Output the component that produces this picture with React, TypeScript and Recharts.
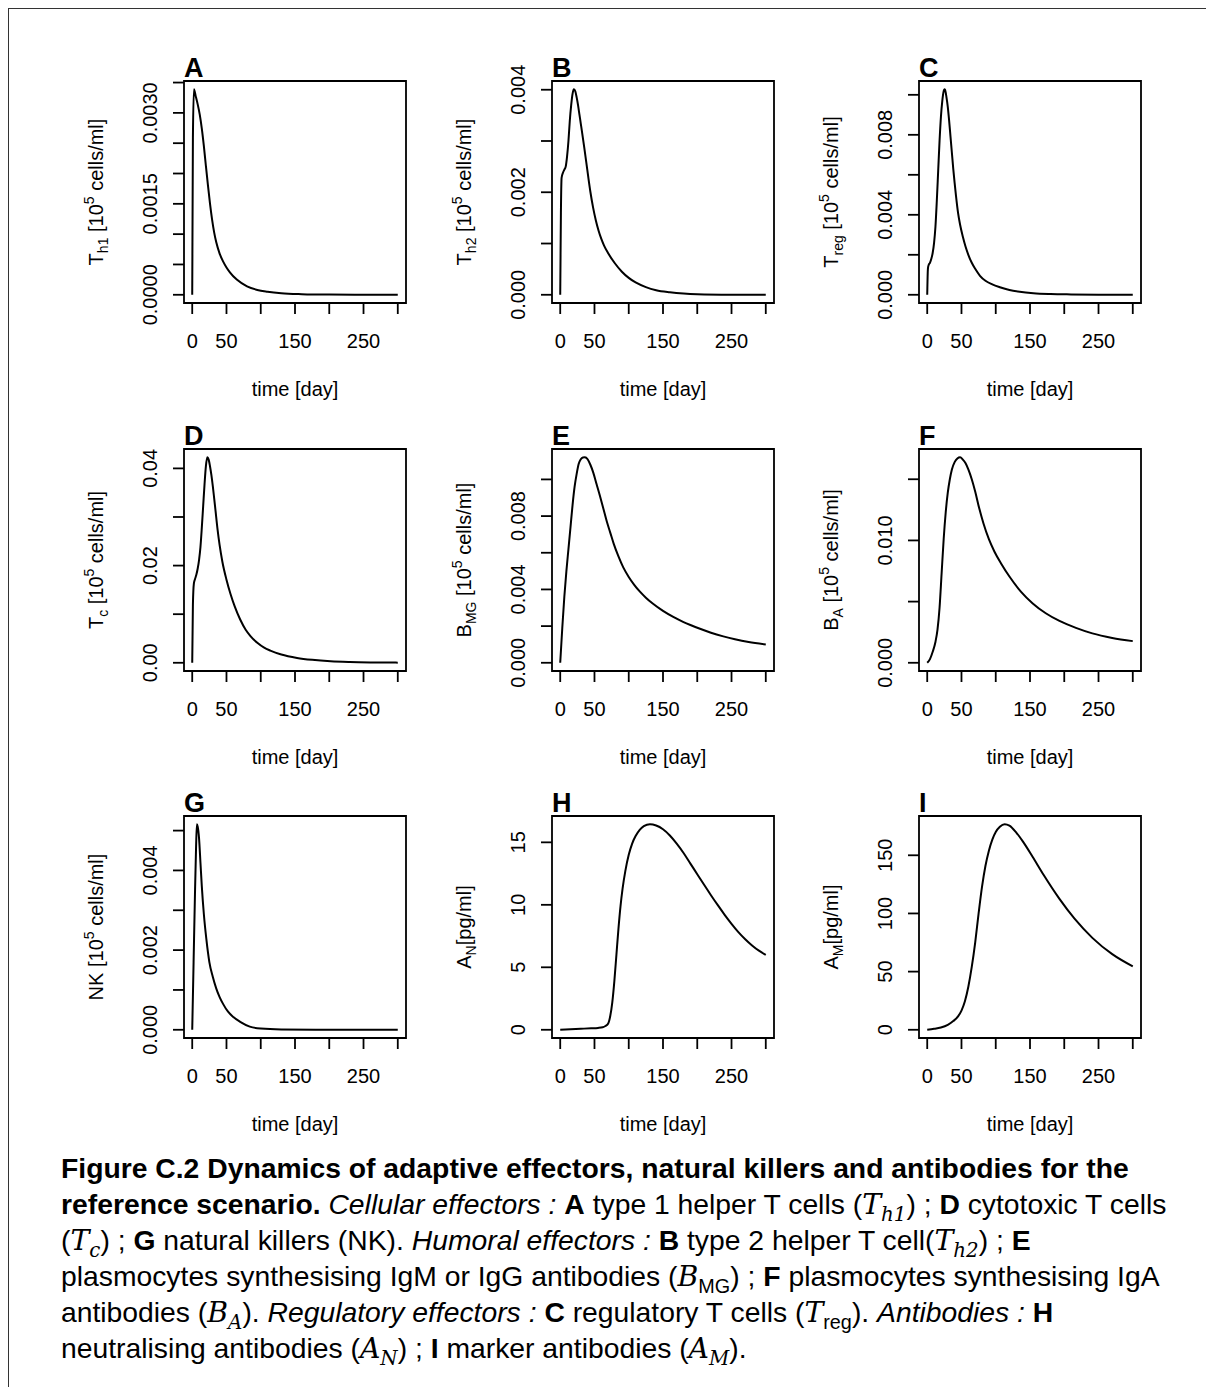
import React from "react";
import { LineChart, Line, XAxis, YAxis, ReferenceArea } from "recharts";

const FONT = "'Liberation Sans', Arial, Helvetica, sans-serif";

// shared time axis (days)
const X_TICKS = [0, 50, 100, 150, 200, 250, 300];
const X_LABELS = [0, 50, 150, 250];

// A: Th1
const A_T = [0, 1, 2.5, 5, 8, 11, 14, 17, 20, 23, 26, 29, 32, 35, 40, 45, 50, 55, 65, 80, 95, 110, 130, 160, 200, 250, 300];
const A_V = [0, 0.0026, 0.00339, 0.00328, 0.00314, 0.00297, 0.00274, 0.00245, 0.00212, 0.0018, 0.0015, 0.00124, 0.00103, 0.00087, 0.00068, 0.00055, 0.00045, 0.00037, 0.00025, 0.00014, 0.00008, 0.00005, 0.000025, 0.00001, 0.000003, 0.000001, 0];
const A_YTICKS = [0, 0.0005, 0.001, 0.0015, 0.002, 0.0025, 0.003, 0.0035];
const A_YLABELS = ["0.0000", "0.0015", "0.0030"];

// B: Th2
const B_T = [0, 1, 2, 4, 6, 8, 10, 12, 14, 16, 18, 20, 22, 24, 26, 28, 30, 32, 35, 38, 41, 44, 48, 52, 56, 60, 64, 70, 80, 90, 100, 110, 125, 140, 160, 180, 200, 250, 300];
const B_V = [0, 0.0016, 0.00228, 0.00238, 0.00244, 0.0025, 0.0027, 0.003, 0.0034, 0.0037, 0.00392, 0.00401, 0.00397, 0.00385, 0.0037, 0.00352, 0.00334, 0.00316, 0.00288, 0.00259, 0.00229, 0.00201, 0.0017, 0.00145, 0.00125, 0.00109, 0.00096, 0.00081, 0.00061, 0.00045, 0.00033, 0.00024, 0.00015, 0.00009, 0.00005, 0.000025, 0.000012, 0.000002, 0];
const B_YTICKS = [0, 0.001, 0.002, 0.003, 0.004];
const B_YLABELS = ["0.000", "0.002", "0.004"];

// C: Treg
const C_T = [0, 1, 2, 4, 6, 8, 10, 12, 14, 16, 18, 20, 22, 24, 25, 26, 28, 30, 32, 34, 36, 38, 40, 42, 45, 48, 52, 56, 60, 65, 70, 77, 85, 95, 106, 120, 135, 155, 180, 210, 250, 300];
const C_V = [0, 0.0013, 0.00148, 0.0016, 0.0018, 0.0021, 0.0026, 0.0034, 0.0047, 0.0062, 0.0077, 0.0089, 0.0097, 0.01018, 0.01028, 0.01025, 0.0099, 0.0094, 0.0087, 0.0079, 0.0071, 0.0063, 0.0056, 0.00495, 0.0041, 0.0035, 0.0029, 0.0024, 0.002, 0.0016, 0.0013, 0.00095, 0.0007, 0.00052, 0.00038, 0.00024, 0.00015, 0.00008, 0.00004, 0.00002, 0.000006, 0];
const C_YTICKS = [0, 0.002, 0.004, 0.006, 0.008, 0.01];
const C_YLABELS = ["0.000", "0.004", "0.008"];

// D: Tc
const D_T = [0, 1, 2.4, 4, 6, 8, 10, 12, 14, 16, 18, 20, 22, 24, 26, 28, 30, 32, 34, 37, 40, 44, 50, 56, 62, 70, 78, 85, 95, 105, 114, 130, 153, 175, 202, 230, 260, 300];
const D_V = [0, 0.012, 0.0163, 0.0172, 0.0181, 0.0194, 0.0212, 0.0238, 0.0278, 0.0323, 0.0368, 0.0405, 0.0423, 0.0418, 0.0404, 0.0386, 0.0364, 0.0339, 0.0313, 0.0274, 0.0242, 0.0208, 0.0171, 0.0141, 0.0116, 0.0089, 0.0068, 0.0055, 0.0041, 0.0031, 0.0025, 0.0017, 0.001, 0.0006, 0.0003, 0.00015, 0.00007, 0.00003];
const D_YTICKS = [0, 0.01, 0.02, 0.03, 0.04];
const D_YLABELS = ["0.00", "0.02", "0.04"];

// E: BMG
const E_T = [0, 3, 6, 9, 12, 15, 18, 21, 24, 27, 30, 33, 36, 40, 44, 48, 53, 58, 63, 68, 73, 78, 85, 92, 100, 108, 116, 125, 135, 150, 165, 180, 190, 205, 220, 238, 255, 275, 300];
const E_V = [0, 0.0019, 0.0036, 0.005, 0.0062, 0.0074, 0.0086, 0.0096, 0.0103, 0.01085, 0.0111, 0.0112, 0.01121, 0.0111, 0.0108, 0.0104, 0.00975, 0.0091, 0.0084, 0.0077, 0.0071, 0.0065, 0.0058, 0.0052, 0.00468, 0.00425, 0.00389, 0.00355, 0.00323, 0.00283, 0.0025, 0.00222, 0.00206, 0.00184, 0.00164, 0.00144, 0.00128, 0.00113, 0.001];
const E_YTICKS = [0, 0.002, 0.004, 0.006, 0.008, 0.01];
const E_YLABELS = ["0.000", "0.004", "0.008"];

// F: BA
const F_T = [0, 4, 8, 12, 15, 18, 21, 24, 27, 30, 33, 36, 40, 44, 48, 52, 56, 60, 65, 70, 76, 82, 90, 98, 108, 120, 137, 154, 173, 193, 217, 241, 270, 300];
const F_V = [0, 0.0003, 0.0009, 0.0017, 0.0027, 0.0045, 0.0073, 0.0101, 0.0123, 0.0139, 0.015, 0.0158, 0.0164, 0.0167, 0.0168, 0.0166, 0.0163, 0.0158, 0.015, 0.014, 0.0126, 0.0114, 0.0101, 0.0091, 0.0081, 0.00705, 0.0058, 0.00485, 0.00405, 0.00342, 0.00285, 0.0024, 0.00203, 0.00177];
const F_YTICKS = [0, 0.005, 0.01, 0.015];
const F_YLABELS = ["0.000", "0.010"];

// G: NK
const G_T = [0, 2, 4, 5.5, 6.8, 8, 10, 12, 14, 17, 20.6, 25, 30, 35, 40, 45, 52, 60, 70, 84, 100, 130, 180, 300];
const G_V = [0, 0.0017, 0.0034, 0.0045, 0.00516, 0.0051, 0.0048, 0.0042, 0.0036, 0.0029, 0.00228, 0.0017, 0.00133, 0.00104, 0.00082, 0.00065, 0.00046, 0.00032, 0.0002, 0.00008, 0.00003, 0.000008, 0.000002, 0];
const G_YTICKS = [0, 0.001, 0.002, 0.003, 0.004, 0.005];
const G_YLABELS = ["0.000", "0.002", "0.004"];

// H: AN
const H_T = [0, 15, 30, 45, 55, 62, 66, 70, 73, 76, 79, 82, 85, 88, 91, 95, 100, 105, 110, 116, 122, 131, 140, 150, 160, 170, 180, 190, 200, 210, 220, 230, 240, 250, 260, 270, 280, 290, 300];
const H_V = [0, 0.04, 0.08, 0.12, 0.15, 0.2, 0.3, 0.5, 1.1, 2.2, 3.9, 6, 8.1, 9.9, 11.3, 12.7, 14, 14.9, 15.5, 16, 16.3, 16.45, 16.35, 16.05, 15.55, 14.9, 14.15, 13.3, 12.45, 11.6, 10.77, 9.97, 9.2, 8.48, 7.82, 7.25, 6.75, 6.33, 6];
const H_YTICKS = [0, 5, 10, 15];
const H_YLABELS = ["0", "5", "10", "15"];

// I: AM
const I_T = [0, 10, 20, 30, 38, 45, 50, 55, 60, 65, 70, 75, 80, 85, 90, 95, 100, 106, 113, 120, 130, 140, 154, 170, 193, 215, 241, 270, 300];
const I_V = [0, 0.8, 2, 4.3, 7.5, 11.5, 16.5, 24.5, 37, 54, 75, 100, 123, 141, 154, 163.5, 170, 174.5, 176.7, 175.5, 169.5, 161.5, 148.5, 133, 112.5, 95.5, 79, 65, 54.5];
const I_YTICKS = [0, 50, 100, 150];
const I_YLABELS = ["0", "50", "100", "150"];

type Title = { main: string; sub?: string; unit: "cells" | "pg" };

type PanelSpec = {
  letter: string;
  t: number[];
  v: number[];
  yTicks: number[];
  yLabels: string[];
  title: Title;
};

const PANELS: PanelSpec[] = [
  { letter: "A", t: A_T, v: A_V, yTicks: A_YTICKS, yLabels: A_YLABELS, title: { main: "T", sub: "h1", unit: "cells" } },
  { letter: "B", t: B_T, v: B_V, yTicks: B_YTICKS, yLabels: B_YLABELS, title: { main: "T", sub: "h2", unit: "cells" } },
  { letter: "C", t: C_T, v: C_V, yTicks: C_YTICKS, yLabels: C_YLABELS, title: { main: "T", sub: "reg", unit: "cells" } },
  { letter: "D", t: D_T, v: D_V, yTicks: D_YTICKS, yLabels: D_YLABELS, title: { main: "T", sub: "c", unit: "cells" } },
  { letter: "E", t: E_T, v: E_V, yTicks: E_YTICKS, yLabels: E_YLABELS, title: { main: "B", sub: "MG", unit: "cells" } },
  { letter: "F", t: F_T, v: F_V, yTicks: F_YTICKS, yLabels: F_YLABELS, title: { main: "B", sub: "A", unit: "cells" } },
  { letter: "G", t: G_T, v: G_V, yTicks: G_YTICKS, yLabels: G_YLABELS, title: { main: "NK", unit: "cells" } },
  { letter: "H", t: H_T, v: H_V, yTicks: H_YTICKS, yLabels: H_YLABELS, title: { main: "A", sub: "N", unit: "pg" } },
  { letter: "I", t: I_T, v: I_V, yTicks: I_YTICKS, yLabels: I_YLABELS, title: { main: "A", sub: "M", unit: "pg" } },
];

// layout of one panel
const BOX = 222;
const LEFT = 130;
const TOP = 60;
const RIGHT = 15;
const BOTTOM = 100;
const W = LEFT + BOX + RIGHT;
const H = TOP + BOX + BOTTOM;
const COL_X = [175, 542.5, 910];
const ROW_Y = [72, 439.5, 807];

function XTick(props: any) {
  const { x, y, payload } = props;
  if (!X_LABELS.includes(payload.value)) return <g />;
  return (
    <text x={x} y={y + 34} textAnchor="middle" fontSize={20} fill="#000" fontFamily={FONT}>
      {payload.value}
    </text>
  );
}

function YTick(props: any) {
  const { x, y, payload, labels } = props;
  const lab = (labels as string[]).find((l) => Math.abs(parseFloat(l) - payload.value) < 1e-9);
  if (!lab) return <g />;
  const bx = x - 16;
  return (
    <text x={bx} y={y} transform={`rotate(-90 ${bx} ${y})`} textAnchor="middle" fontSize={20} fill="#000" fontFamily={FONT}>
      {lab}
    </text>
  );
}

function XTitle(props: any) {
  const vb = props.viewBox;
  return (
    <text x={vb.x + vb.width / 2} y={vb.y + 93} textAnchor="middle" fontSize={20} fill="#000" fontFamily={FONT}>
      time [day]
    </text>
  );
}

function YTitle(props: any) {
  const { viewBox: vb, title, letter } = props;
  const cx = vb.x + vb.width - 81;
  const cy = vb.y + vb.height / 2;
  const t = title as Title;
  return (
    <g>
      <text x={cx} y={cy} transform={`rotate(-90 ${cx} ${cy})`} textAnchor="middle" fontSize={20} fill="#000" fontFamily={FONT}>
        <tspan>{t.main}</tspan>
        {t.sub && (
          <tspan fontSize={14} dy={5}>
            {t.sub}
          </tspan>
        )}
        {t.unit === "cells" ? (
          <>
            <tspan dy={t.sub ? -5 : 0}> [10</tspan>
            <tspan fontSize={14} dy={-9}>
              5
            </tspan>
            <tspan dy={9}> cells/ml]</tspan>
          </>
        ) : (
          <tspan dy={t.sub ? -5 : 0}>[pg/ml]</tspan>
        )}
      </text>
      <text x={vb.x + vb.width} y={vb.y - 4} fontSize={27} fontWeight="bold" fill="#000" fontFamily={FONT}>
        {letter}
      </text>
    </g>
  );
}

function Panel({ p }: { p: PanelSpec }) {
  const data = p.t.map((t, i) => ({ t, v: p.v[i] }));
  const xMax = Math.max(...p.t);
  const yMax = Math.max(...p.v);
  const xDom: [number, number] = [-0.04 * xMax, 1.04 * xMax];
  const yDom: [number, number] = [-0.04 * yMax, 1.04 * yMax];
  const tickLine = { stroke: "#000", strokeWidth: 1.8 };
  return (
    <LineChart width={W} height={H} data={data} margin={{ top: TOP, right: RIGHT, bottom: 0, left: 0 }}>
      <XAxis
        dataKey="t"
        type="number"
        domain={xDom}
        ticks={X_TICKS}
        interval={0}
        allowDataOverflow
        axisLine={false}
        tickLine={tickLine}
        tickSize={11}
        tickMargin={0}
        height={BOTTOM}
        tick={(props: any) => <XTick {...props} />}
        label={<XTitle />}
      />
      <YAxis
        type="number"
        domain={yDom}
        ticks={p.yTicks}
        interval={0}
        allowDataOverflow
        axisLine={false}
        tickLine={tickLine}
        tickSize={11}
        tickMargin={0}
        width={LEFT}
        tick={(props: any) => <YTick {...props} labels={p.yLabels} />}
        label={<YTitle title={p.title} letter={p.letter} />}
      />
      <ReferenceArea
        x1={xDom[0]}
        x2={xDom[1]}
        y1={yDom[0]}
        y2={yDom[1]}
        fill="none"
        stroke="#000"
        strokeWidth={1.8}
        ifOverflow="visible"
      />
      <Line dataKey="v" type="monotone" stroke="#000" strokeWidth={2} dot={false} isAnimationActive={false} />
    </LineChart>
  );
}

const M = ({ children }: { children: React.ReactNode }) => (
  <span style={{ fontFamily: "'DejaVu Serif', 'Liberation Serif', serif", fontStyle: "italic" }}>{children}</span>
);
const Sub = ({ children, up }: { children: React.ReactNode; up?: boolean }) => (
  <sub
    style={{
      fontSize: "0.7em",
      lineHeight: 0,
      fontStyle: up ? "normal" : "italic",
      fontFamily: up ? FONT : undefined,
    }}
  >
    {children}
  </sub>
);

function Caption() {
  const line = { whiteSpace: "nowrap" as const, height: 36 };
  return (
    <div
      style={{
        position: "absolute",
        left: 52,
        top: 1141,
        fontFamily: FONT,
        fontSize: 28.3,
        lineHeight: "36px",
        color: "#000",
      }}
    >
      <div style={line}>
        <b>Figure C.2 Dynamics of adaptive effectors, natural killers and antibodies for the</b>
      </div>
      <div style={line}>
        <b>reference scenario.</b> <i>Cellular effectors :</i> <b>A</b> type 1 helper T cells (
        <M>
          T<Sub>h1</Sub>
        </M>
        ) ; <b>D</b> cytotoxic T cells
      </div>
      <div style={line}>
        (
        <M>
          T<Sub>c</Sub>
        </M>
        ) ; <b>G</b> natural killers (NK). <i>Humoral effectors :</i> <b>B</b> type 2 helper T cell(
        <M>
          T<Sub>h2</Sub>
        </M>
        ) ; <b>E</b>
      </div>
      <div style={line}>
        plasmocytes synthesising IgM or IgG antibodies (
        <M>
          B<Sub up>MG</Sub>
        </M>
        ) ; <b>F</b> plasmocytes synthesising IgA
      </div>
      <div style={line}>
        antibodies (
        <M>
          B<Sub>A</Sub>
        </M>
        ). <i>Regulatory effectors :</i> <b>C</b> regulatory T cells (
        <M>
          T<Sub up>reg</Sub>
        </M>
        ). <i>Antibodies :</i> <b>H</b>
      </div>
      <div style={line}>
        neutralising antibodies (
        <M>
          A<Sub>N</Sub>
        </M>
        ) ; <b>I</b> marker antibodies (
        <M>
          A<Sub>M</Sub>
        </M>
        ).
      </div>
    </div>
  );
}

export default function App() {
  return (
    <div
      style={{
        position: "relative",
        width: 1206,
        height: 1379,
        borderTop: "1px solid #333",
        borderLeft: "1px solid #333",
        background: "#fff",
        overflow: "hidden",
      }}
    >
      {PANELS.map((p, i) => (
        <div
          key={p.letter}
          style={{ position: "absolute", left: COL_X[i % 3] - LEFT, top: ROW_Y[Math.floor(i / 3)] - TOP }}
        >
          <Panel p={p} />
        </div>
      ))}
      <Caption />
    </div>
  );
}
